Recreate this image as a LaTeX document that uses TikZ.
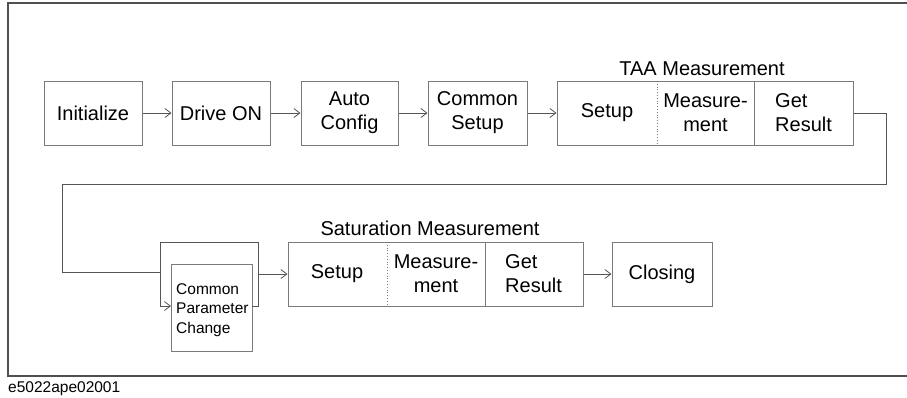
\documentclass[tikz,border=0pt]{standalone}
\usepackage{fontspec}
\setmainfont{Liberation Sans}
\usetikzlibrary{arrows.meta}
\begin{document}
\begin{tikzpicture}[x=1pt,y=-1pt,
  box/.style={draw=boxgray,line width=1pt,inner sep=0pt,minimum height=64pt},
  txt/.style={inner sep=0pt,font=\fontsize{20}{24}\selectfont,align=center},
  smalltxt/.style={inner sep=0pt,font=\fontsize{15.5}{19.5}\selectfont,align=left},
  conn/.style={draw=linegray,line width=1pt},
  arr/.style={conn,-{Straight Barb[length=6pt,width=9pt,line width=0.8pt]}},
  frame/.style={draw=framegray,line width=1.3pt}]
\definecolor{boxgray}{HTML}{7A7A7A}
\definecolor{linegray}{HTML}{555555}
\definecolor{framegray}{HTML}{505050}
\useasboundingbox (0,0) rectangle (907,397);
% outer frame
\coordinate (fr1) at (907,3);
\coordinate (fr2) at (8,3);
\coordinate (fr3) at (8,376);
\coordinate (fr4) at (907,376);
\draw[frame] (fr1) -- (fr2) -- (fr3) -- (fr4);
\node[anchor=base west,inner sep=0pt,font=\fontsize{15.5}{18}\selectfont] (code) at (8,392) {e5022ape02001};
% top row
\node[box,minimum width=98pt] (init) at (93,113) {};
\node[txt] (initt) at (init.center) {Initialize};
\node[box,minimum width=98pt] (drive) at (221,113) {};
\node[txt] (drivet) at (drive.center) {Drive ON};
\node[box,minimum width=97pt] (auto) at (349.5,113) {};
\node[txt] (autot) at (auto.center) {Auto\\ Config};
\node[box,minimum width=99pt] (common) at (477.5,113) {};
\node[txt] (commont) at (common.center) {Common\\ Setup};
\node[box,minimum width=296pt] (taa) at (705,113) {};
\node[txt,anchor=base] (taatitle) at (702,75) {TAA Measurement};
\coordinate (taad1a) at (657,81); \coordinate (taad1b) at (657,145);
\coordinate (taad2a) at (754,81); \coordinate (taad2b) at (754,145);
\draw[draw=boxgray,line width=0.8pt,dotted] (taad1a) -- (taad1b);
\draw[draw=boxgray,line width=1pt] (taad2a) -- (taad2b);
\node[txt] (taasetup) at (607,113) {Setup};
\node[txt] (taameas) at (705.5,113) {Measure-\\ment};
\node[txt,anchor=west,align=left] (taares) at (775,113) {Get\\Result};
\draw[arr] (init) -- (drive);
\draw[arr] (drive) -- (auto);
\draw[arr] (auto) -- (common);
\draw[arr] (common) -- (taa);
% return path
\coordinate (r1) at (886,113);
\coordinate (r2) at (886,184);
\coordinate (r3) at (62,184);
\coordinate (r4) at (62,272);
\coordinate (r5) at (160,272);
\draw[conn] (taa.east) -- (r1) -- (r2) -- (r3) -- (r4) -- (r5);
% common parameter change with loop
\node[box,minimum width=81pt,minimum height=87pt] (cpc) at (211.5,307.5) {};
\node[smalltxt,anchor=west] (cpct) at (176,310) {Common\\Parameter\\Change};
\coordinate (l1) at (258,306);
\coordinate (l2) at (258,242);
\coordinate (l3) at (160,242);
\coordinate (l4) at (160,306);
\coordinate (cpcin) at (171,306);
\coordinate (cpcout) at (252,306);
\draw[conn] (cpcout) -- (l1) -- (l2) -- (l3) -- (l4);
\draw[arr] (l4) -- (cpcin);
% saturation
\node[box,minimum width=295pt] (sat) at (435.5,274) {};
\node[txt,anchor=base] (sattitle) at (430,235) {Saturation Measurement};
\coordinate (satd1a) at (387,242); \coordinate (satd1b) at (387,306);
\coordinate (satd2a) at (485,242); \coordinate (satd2b) at (485,306);
\draw[draw=boxgray,line width=0.8pt,dotted] (satd1a) -- (satd1b);
\draw[draw=boxgray,line width=1pt] (satd2a) -- (satd2b);
\node[txt] (satsetup) at (337,274) {Setup};
\node[txt] (satmeas) at (436,274) {Measure-\\ment};
\node[txt,anchor=west,align=left] (satres) at (505,274) {Get\\Result};
\coordinate (satfrom) at (258,274);
\draw[arr] (satfrom) -- (sat.west);
\node[box,minimum width=100pt] (closing) at (662,274) {};
\node[txt] (closingt) at (closing.center) {Closing};
\draw[arr] (sat.east) -- (closing.west);
\end{tikzpicture}
\end{document}
